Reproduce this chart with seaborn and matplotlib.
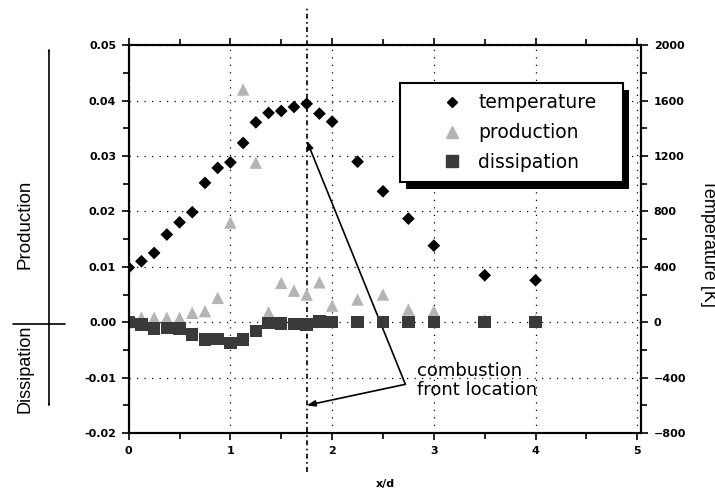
import matplotlib
matplotlib.use("Agg")
import matplotlib.pyplot as plt
from matplotlib.patches import FancyArrowPatch, Rectangle
from matplotlib.lines import Line2D
from matplotlib.ticker import MultipleLocator
import pandas as pd
import seaborn as sns

# positions along the axis (x/d)
x_pos = [0, 0.125, 0.25, 0.375, 0.5, 0.625, 0.75, 0.875, 1.0, 1.125, 1.25, 1.375,
         1.5, 1.625, 1.75, 1.875, 2.0, 2.25, 2.5, 2.75, 3.0, 3.5, 4.0]
temperature = [395, 440, 500, 633, 721, 794, 1006, 1114, 1154, 1294, 1443, 1511,
               1525, 1554, 1577, 1506, 1448, 1159, 945, 748, 553, 339, 303]
production = [0.0, 0.0008, 0.0008, 0.0008, 0.0008, 0.0017, 0.002, 0.0044, 0.018, 0.042,
              0.0288, 0.0018, 0.0071, 0.0057, 0.005, 0.0072, 0.003, 0.0041, 0.005,
              0.0023, 0.002, 0.0004, 0.0004]
dissipation = [0.0, -0.0004, -0.0011, -0.001, -0.0011, -0.0022, -0.0031, -0.003, -0.0037,
               -0.0031, -0.0016, -0.0001, -0.0002, -0.0003, -0.0004, 0.0001, 0.0, 0.0,
               0.0, 0.0, 0.0, 0.0, 0.0]
front_location = 1.75
labels = ["temperature", "production", "dissipation"]

df = pd.DataFrame({"x": x_pos, "T": temperature, "prod": production, "diss": dissipation})

sns.set_style("ticks")
plt.rcParams["font.family"] = ["DejaVu Sans"]
plt.rcParams.update({"text.color": "black", "axes.labelcolor": "black",
                     "xtick.color": "black", "ytick.color": "black"})

fig = plt.figure(figsize=(7.15, 4.91), dpi=100)
ax = fig.add_axes([0.180, 0.118, 0.717, 0.790])
ax2 = ax.twinx()

dot_grid = (0, (1, 5))
ax.grid(True, which="major", color="black", linestyle=dot_grid, linewidth=0.9)

sns.scatterplot(data=df, x="x", y="prod", marker="^", s=80, color="#b4b4b4",
                edgecolor="none", ax=ax, zorder=3, legend=False)
sns.scatterplot(data=df, x="x", y="diss", marker="s", s=80, color="#3a3a3a",
                edgecolor="none", ax=ax, zorder=4, legend=False)
sns.scatterplot(data=df, x="x", y="T", marker="D", s=42, color="black",
                edgecolor="none", ax=ax2, zorder=5, legend=False)

ax.set_xlim(0, 5.04)
ax.set_ylim(-0.02, 0.05)
ax2.set_ylim(-800, 2000)

ax.xaxis.set_major_locator(MultipleLocator(1))
ax.xaxis.set_minor_locator(MultipleLocator(0.5))
ax.yaxis.set_major_locator(MultipleLocator(0.01))
ax.yaxis.set_minor_locator(MultipleLocator(0.005))
ax2.yaxis.set_major_locator(MultipleLocator(400))
ax2.yaxis.set_minor_locator(MultipleLocator(200))
ax.set_yticklabels([f"{v:.2f}" for v in ax.get_yticks()])

for a in (ax, ax2):
    for sp in a.spines.values():
        sp.set_linewidth(1.5)
        sp.set_color("black")
ax.tick_params(axis="both", which="major", direction="out", length=5, width=1.2,
               labelsize=8, pad=4)
ax.tick_params(axis="both", which="minor", direction="out", length=4, width=1.2)
ax.tick_params(axis="x", which="both", top=True)
ax2.tick_params(axis="y", which="major", direction="out", length=5, width=1.2,
                labelsize=8, pad=4)
ax2.tick_params(axis="y", which="minor", direction="out", length=4, width=1.2)
for lab in ax.get_xticklabels() + ax.get_yticklabels() + ax2.get_yticklabels():
    lab.set_fontweight("bold")

ax.set_xlabel("x/d", fontsize=8, fontweight="bold")
ax.xaxis.set_label_coords(0.5, -0.118)
ax.set_ylabel("")
ax2.set_ylabel("Temperature [K]", rotation=270, fontsize=13, va="center",
               family="Liberation Sans")
ax2.yaxis.set_label_coords(1.13, 0.49)

# combustion front marker line
ax.add_line(Line2D([front_location, front_location], [-0.1005, 1.098],
                   transform=ax.get_xaxis_transform(), color="black",
                   linestyle=(0, (3, 2, 1, 2)), linewidth=1.2, clip_on=False, zorder=2))

# annotation arrows
arrow_style = "-|>,head_length=0.5,head_width=0.18"
for tip in (0.0328, -0.015):
    ax.annotate("", xy=(front_location, tip), xytext=(2.72, -0.0112),
                arrowprops=dict(arrowstyle=arrow_style, color="black", lw=1.2,
                                shrinkA=0, shrinkB=0))
ax.text(2.83, -0.0105, "combustion\nfront location", fontsize=13, ha="left",
        va="center", linespacing=1.1)

# legend: own frame with solid black shadow
ax2.add_patch(Rectangle((0.529 + 0.0117, 0.647 - 0.018), 0.436, 0.255,
                        transform=ax2.transAxes, facecolor="black", edgecolor="none",
                        zorder=8, clip_on=False))
ax2.add_patch(Rectangle((0.529, 0.647), 0.436, 0.255, transform=ax2.transAxes,
                        facecolor="white", edgecolor="black", linewidth=1.5,
                        zorder=9, clip_on=False))
handles = [
    Line2D([], [], marker="D", markersize=5.5, color="black", linestyle="none"),
    Line2D([], [], marker="^", markersize=9, color="#b4b4b4", linestyle="none"),
    Line2D([], [], marker="s", markersize=8, color="#3a3a3a", linestyle="none"),
]
leg = ax2.legend(handles, labels, loc="upper left", bbox_to_anchor=(0.607, 0.876),
                 fontsize=13.5, frameon=False, borderpad=0, borderaxespad=0,
                 labelspacing=0.58, handlelength=1.24, handletextpad=0.8)
leg.set_zorder(10)

# left-hand production / dissipation arrow
for end in (0.902, 0.171):
    fig.add_artist(FancyArrowPatch((0.0685, 0.340), (0.0685, end), transform=fig.transFigure,
                                   arrowstyle="-|>,head_length=0.6,head_width=0.25",
                                   color="black", lw=1.2, shrinkA=0, shrinkB=0))
fig.add_artist(Line2D([0.018, 0.091], [0.340, 0.340], transform=fig.transFigure,
                      color="black", lw=1.2))
fig.text(0.035, 0.544, "Production", rotation=90, fontsize=13.5, ha="center", va="center",
         family="Liberation Sans")
fig.text(0.035, 0.248, "Dissipation", rotation=90, fontsize=13, ha="center", va="center",
         family="Liberation Sans")

fig.savefig("out.png", dpi=100)
